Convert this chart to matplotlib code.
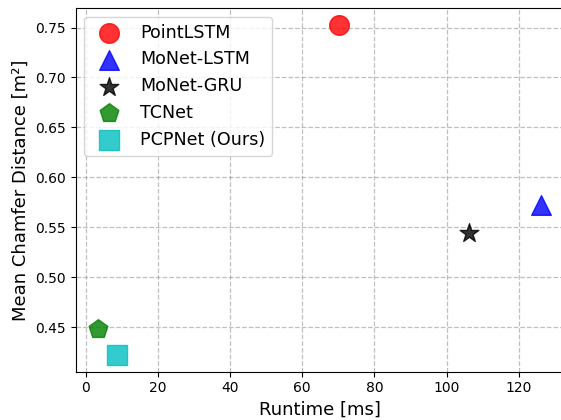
import matplotlib
matplotlib.use("Agg")
import matplotlib.pyplot as plt

methods = ["PointLSTM", "MoNet-LSTM", "MoNet-GRU", "TCNet", "PCPNet (Ours)"]
runtime_ms = [70.2, 126.2, 106.3, 3.35, 8.8]
chamfer = [0.753, 0.572, 0.544, 0.448, 0.422]
colors = ["red", "blue", "black", "green", "c"]
markers = ["o", "^", "*", "p", "s"]

fig = plt.figure(figsize=(5.61, 4.2), dpi=100)
ax = fig.add_axes([0.1348, 0.115, 0.8695, 0.866])

for m, x, y, c, mk in zip(methods, runtime_ms, chamfer, colors, markers):
    ax.scatter(x, y, s=200, c=c, marker=mk, alpha=0.8, label=m, zorder=3)

ax.grid(True, linestyle="--", color="gray", alpha=0.5, linewidth=0.9)
ax.set_axisbelow(True)
ax.spines["right"].set_visible(False)
ax.set_xlabel("Runtime [ms]", fontsize=13)
ax.set_ylabel("Mean Chamfer Distance [m²]", fontsize=13)
ax.tick_params(labelsize=10)
ax.set_xticks([0, 20, 40, 60, 80, 100, 120])
ax.set_yticks([0.45, 0.50, 0.55, 0.60, 0.65, 0.70, 0.75])
ax.legend(loc="upper left", fontsize=12.6)

fig.savefig("out.png", dpi=100)
